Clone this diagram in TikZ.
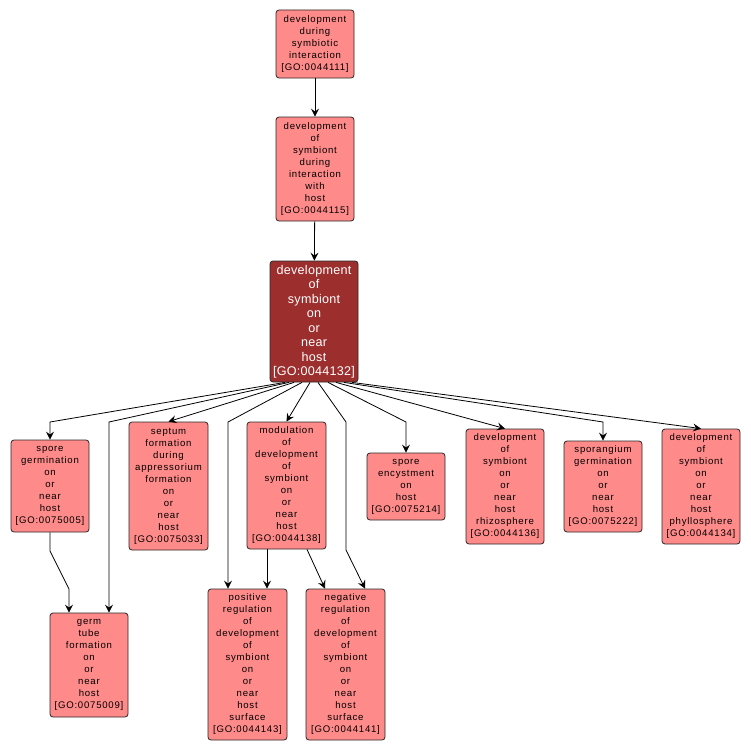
\documentclass[tikz,border=0pt]{standalone}
\usepackage{fontspec}
\setmainfont{Liberation Sans}
\newfontfamily\gofont[LetterSpace=8]{Liberation Sans}
\newfontfamily\gofontc[LetterSpace=2]{Liberation Sans}
\usetikzlibrary{arrows.meta,calc}
\definecolor{goSalmon}{RGB}{255,138,138}
\definecolor{goDark}{RGB}{156,46,46}
\definecolor{goLine}{RGB}{40,40,40}
\tikzset{
  gobox/.style={draw=goLine, line width=0.8pt, fill=goSalmon, rounded corners=3pt,
    align=center, inner sep=0pt, minimum width=78pt, text=black,
    font={\gofont\fontsize{9.6}{12}\selectfont}},
  gocenter/.style={draw=goLine, line width=0.8pt, fill=goDark, rounded corners=3pt,
    align=center, inner sep=0pt, minimum width=88pt, text=white,
    font={\gofontc\fontsize{12.6}{14.5}\selectfont}},
  edge/.style={draw=black, line width=0.8pt, -{Stealth[length=8pt,width=8pt,inset=3pt]}}
}
\begin{document}
\begin{tikzpicture}[x=1pt,y=-1pt]
\useasboundingbox[fill=white] (0,0) rectangle (751,752);
\node[gobox, minimum height=68pt] (n1) at (315,44) {development\\during\\symbiotic\\interaction\\{[GO:0044111]}};
\node[gobox, minimum height=104pt] (n2) at (315,169) {development\\of\\symbiont\\during\\interaction\\with\\host\\{[GO:0044115]}};
\node[gocenter, minimum height=121pt] (n3) at (314,321.5) {development\\of\\symbiont\\on\\or\\near\\host\\{[GO:0044132]}};
\node[gobox, minimum height=92pt] (sg) at (50,486) {spore\\germination\\on\\or\\near\\host\\{[GO:0075005]}};
\node[gobox, minimum width=79pt, minimum height=128pt] (sep) at (168.5,486) {septum\\formation\\during\\appressorium\\formation\\on\\or\\near\\host\\{[GO:0075033]}};
\node[gobox, minimum width=79pt, minimum height=127pt] (mod) at (286.5,485.5) {modulation\\of\\development\\of\\symbiont\\on\\or\\near\\host\\{[GO:0044138]}};
\node[gobox, minimum height=67pt] (enc) at (406,486.5) {spore\\encystment\\on\\host\\{[GO:0075214]}};
\node[gobox, minimum height=115pt] (rhi) at (505,486.5) {development\\of\\symbiont\\on\\or\\near\\host\\rhizosphere\\{[GO:0044136]}};
\node[gobox, minimum height=91pt] (spg) at (603,486.5) {sporangium\\germination\\on\\or\\near\\host\\{[GO:0075222]}};
\node[gobox, minimum height=115pt] (phy) at (701,486.5) {development\\of\\symbiont\\on\\or\\near\\host\\phyllosphere\\{[GO:0044134]}};
\node[gobox, minimum height=104pt] (gt) at (89,665) {germ\\tube\\formation\\on\\or\\near\\host\\{[GO:0075009]}};
\node[gobox, minimum width=79pt, minimum height=151pt] (pos) at (247.5,664.5) {positive\\regulation\\of\\development\\of\\symbiont\\on\\or\\near\\host\\surface\\{[GO:0044143]}};
\node[gobox, minimum width=79pt, minimum height=151pt] (neg) at (345.5,664.5) {negative\\regulation\\of\\development\\of\\symbiont\\on\\or\\near\\host\\surface\\{[GO:0044141]}};
% waypoints
\coordinate (wsg) at (50,422);
\coordinate (wgt) at (109,422);
\coordinate (wpos) at (228,422);
\coordinate (wneg1) at (346,422);
\coordinate (wneg2) at (346,550);
\coordinate (wenc) at (406,422);
\coordinate (wspg) at (603,422);
\coordinate (wsg1) at (50,551);
\coordinate (wsg2) at (69,589);
% edges
\draw[edge] (n1) -- (n2);
\draw[edge] (n2) -- (n3);
\draw[edge] ($(n3.south)+(-29,0)$) -- (wsg) -- (sg.north);
\draw[edge] ($(n3.south)+(-25,0)$) -- (wgt) -- (wgt |- gt.north);
\draw[edge] ($(n3.south)+(-20,0)$) -- (sep.north);
\draw[edge] ($(n3.south)+(-12,0)$) -- (wpos) -- (wpos |- pos.north);
\draw[edge] ($(n3.south)+(-4,0)$) -- (mod.north);
\draw[edge] ($(n3.south)+(4,0)$) -- (wneg1) -- (wneg2) -- ($(neg.north)+(19.5,0)$);
\draw[edge] ($(n3.south)+(14,0)$) -- (wenc) -- (enc.north);
\draw[edge] ($(n3.south)+(22,0)$) -- (rhi.north);
\draw[edge] ($(n3.south)+(30,0)$) -- (wspg) -- (spg.north);
\draw[edge] ($(n3.south)+(38,0)$) -- (phy.north);
\draw[edge] (sg.south) -- (wsg1) -- (wsg2) -- (wsg2 |- gt.north);
\draw[edge] ($(mod.south)+(-19.5,0)$) -- ($(pos.north)+(19.5,0)$);
\draw[edge] ($(mod.south)+(20.5,0)$) -- ($(neg.north)+(-20.5,0)$);
\end{tikzpicture}
\end{document}
